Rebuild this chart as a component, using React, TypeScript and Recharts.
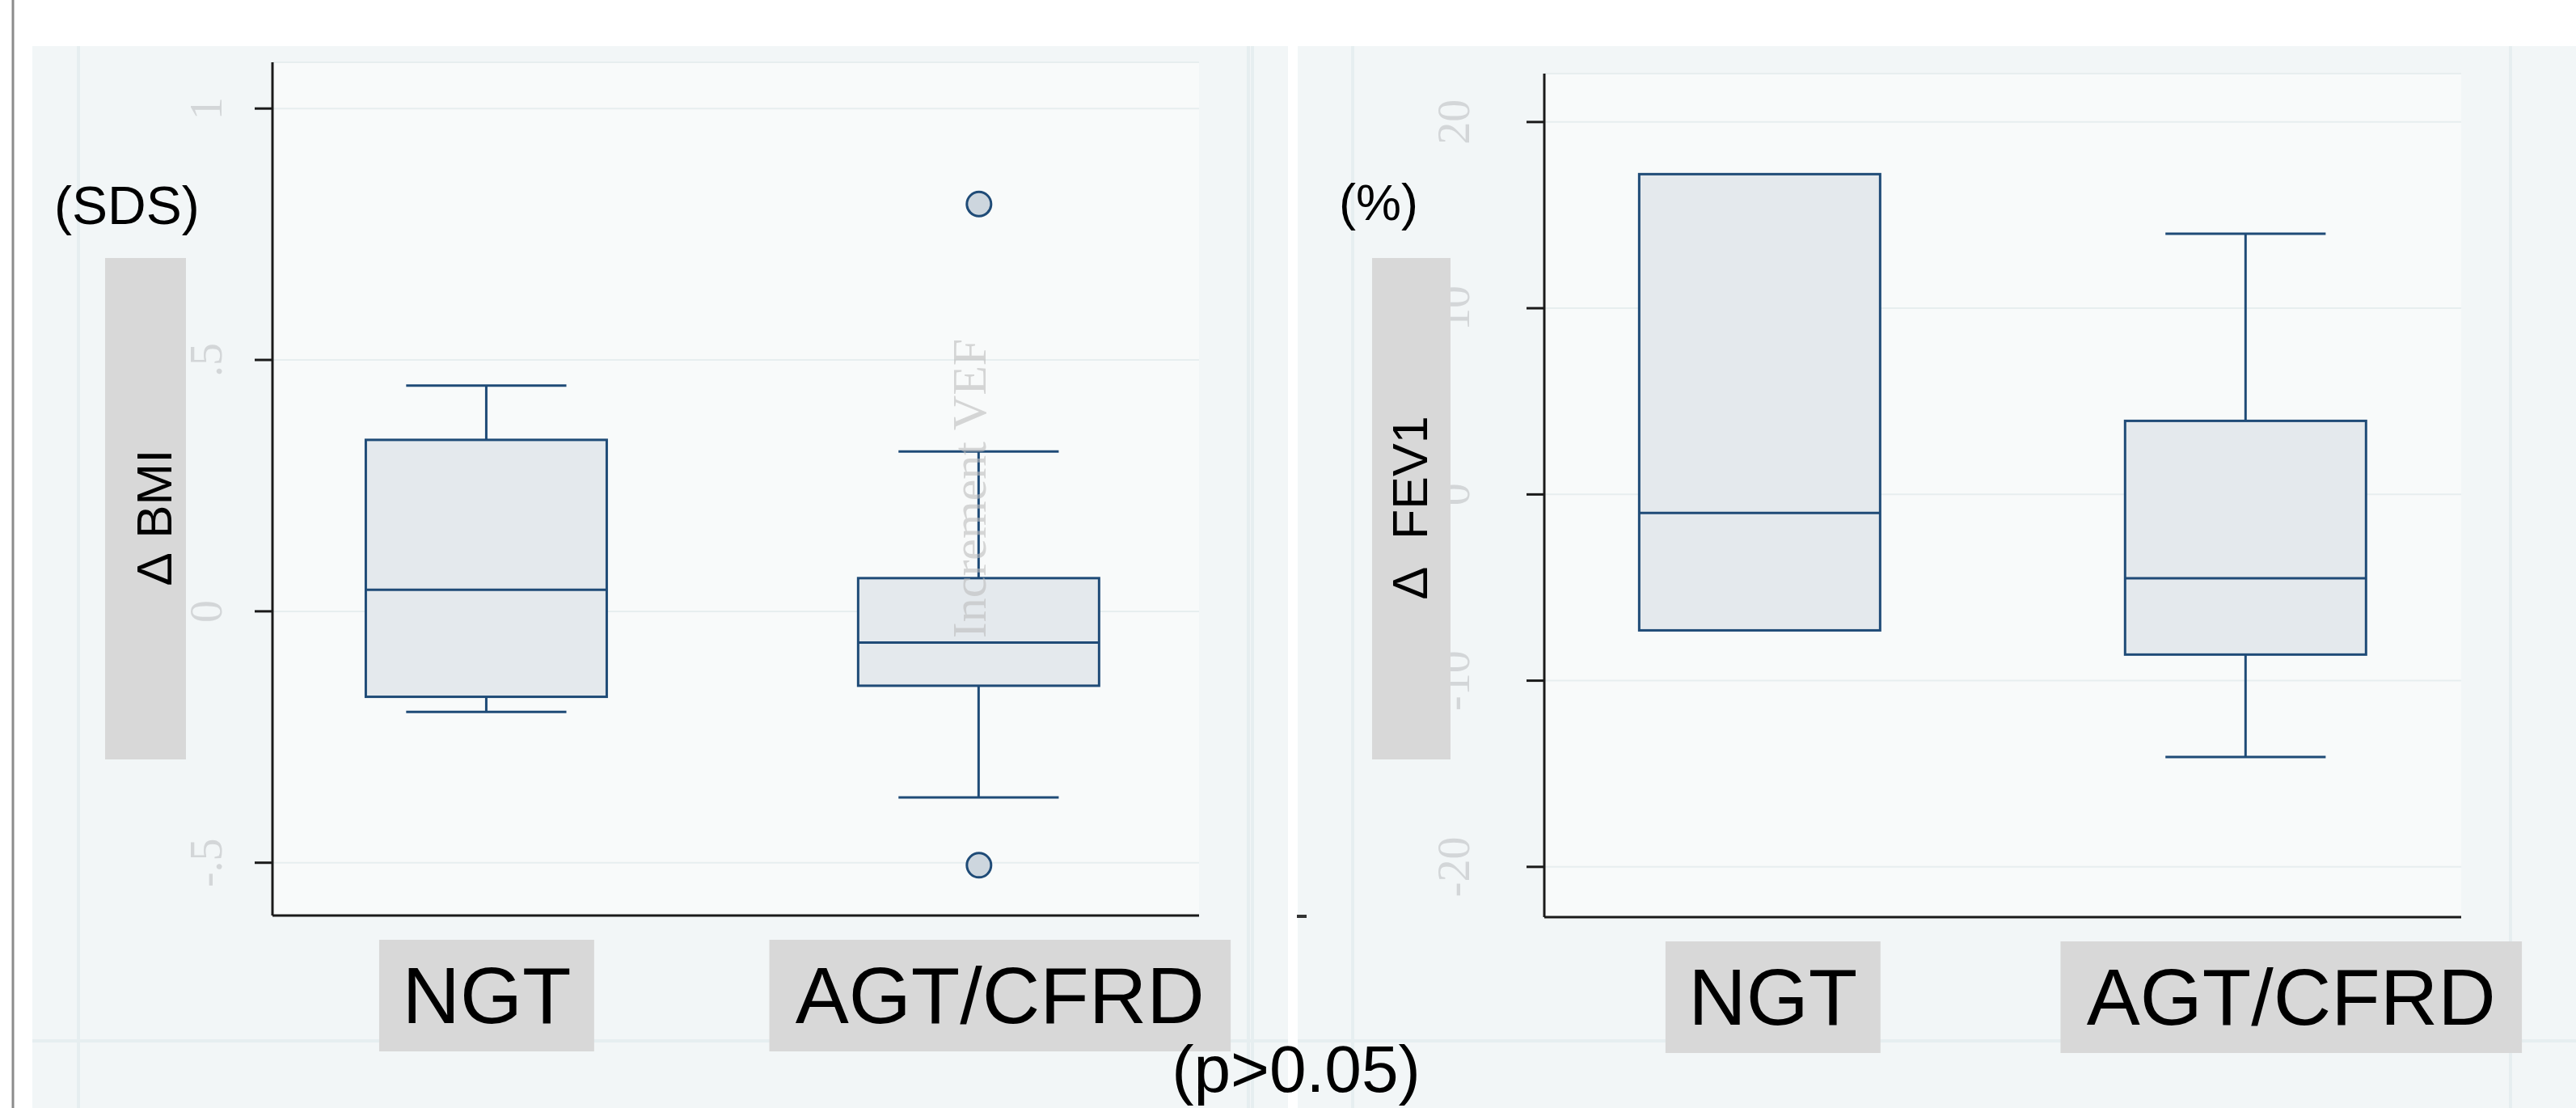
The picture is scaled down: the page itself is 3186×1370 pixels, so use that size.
import React from "react"
import { ComposedChart, Bar, Scatter, XAxis, YAxis, CartesianGrid } from "recharts"

// categories on a numeric x scale so both boxes sit where the original put them
const categories = ["NGT", "AGT/CFRD"]
const positions = [1, 2]

// Δ BMI (SDS)
const bmiMin = [-0.2, -0.37]
const bmiQ1 = [-0.17, -0.148]
const bmiMedian = [0.043, -0.062]
const bmiQ3 = [0.341, 0.066]
const bmiMax = [0.449, 0.318]
const bmiOutlierPos = [2, 2]
const bmiOutliers = [0.81, -0.505]
const bmiTicks = [-0.5, 0, 0.5, 1]
const bmiTickLabels = ["-.5", "0", ".5", "1"]

// Δ FEV1 (%)
const fevMin = [-7.3, -14.1]
const fevQ1 = [-7.3, -8.6]
const fevMedian = [-1.0, -4.5]
const fevQ3 = [17.2, 3.95]
const fevMax = [17.2, 14.0]
const fevTicks = [-20, -10, 0, 10, 20]
const fevTickLabels = ["-20", "-10", "0", "10", "20"]

const NAVY = "#1f4b77"
const BOX_FILL = "#e4e9ed"
const OUTER_BG = "#f2f6f7"
const PLOT_BG = "#f8fafa"
const GRID = "#e7eeef"
const LABEL_BOX = "#d8d8d8"
const SANS = "'Liberation Sans', Arial, sans-serif"
const SERIF = "'Liberation Serif', 'Times New Roman', serif"

const makeRows = (mn: number[], q1: number[], med: number[], q3: number[], mx: number[]) =>
  positions.map((pos, i) => ({
    pos,
    name: categories[i],
    min: mn[i],
    q1: q1[i],
    median: med[i],
    q3: q3[i],
    max: mx[i],
  }))

const bmiRows = makeRows(bmiMin, bmiQ1, bmiMedian, bmiQ3, bmiMax)
const fevRows = makeRows(fevMin, fevQ1, fevMedian, fevQ3, fevMax)
const bmiOutlierRows = bmiOutliers.map((v, i) => ({ pos: bmiOutlierPos[i], value: v }))

// box drawn from the range bar [q1, q3]; whiskers and median use the same pixel scale
function BoxShape(props: any) {
  const { x, y, width, height, payload } = props
  if (!payload || !isFinite(x) || !isFinite(y)) return null
  const top = Math.min(y, y + height)
  const h = Math.abs(height)
  const unit = h / (payload.q3 - payload.q1)
  const py = (v: number) => top + (payload.q3 - v) * unit
  const cx = x + width / 2
  const cap = width * 0.665
  return (
    <g stroke={NAVY} strokeWidth={3}>
      {payload.max > payload.q3 && (
        <>
          <line x1={cx} x2={cx} y1={py(payload.q3)} y2={py(payload.max)} />
          <line x1={cx - cap / 2} x2={cx + cap / 2} y1={py(payload.max)} y2={py(payload.max)} />
        </>
      )}
      {payload.min < payload.q1 && (
        <>
          <line x1={cx} x2={cx} y1={py(payload.q1)} y2={py(payload.min)} />
          <line x1={cx - cap / 2} x2={cx + cap / 2} y1={py(payload.min)} y2={py(payload.min)} />
        </>
      )}
      <rect x={x} y={top} width={width} height={h} fill={BOX_FILL} />
      <line x1={x} x2={x + width} y1={py(payload.median)} y2={py(payload.median)} />
    </g>
  )
}

function OutlierDot(props: any) {
  const { cx, cy } = props
  if (!isFinite(cx) || !isFinite(cy)) return null
  return <circle cx={cx} cy={cy} r={15} fill="#cdd6de" stroke={NAVY} strokeWidth={3} />
}

function makeYTick(ticks: number[], labels: string[], dx: number) {
  return function YTick(props: any) {
    const { x, y, payload } = props
    const i = ticks.indexOf(payload.value)
    const tx = x + dx
    return (
      <text
        x={tx}
        y={y}
        transform={`rotate(-90 ${tx} ${y})`}
        textAnchor="middle"
        dominantBaseline="central"
        fontFamily={SERIF}
        fontSize={56}
        fill="#d3d6d8"
      >
        {i >= 0 ? labels[i] : payload.value}
      </text>
    )
  }
}

const labelWidth = (s: string, fs: number) =>
  s.split("").reduce((w, ch) => w + (ch === "/" ? 0.278 : 0.7), 0) * fs

function makeCategoryTick(shifts: number[]) {
  return function CategoryTick(props: any) {
    const { y, payload } = props
    const idx = positions.indexOf(payload.value)
    const label = categories[idx]
    if (!label) return null
    const x = props.x + (shifts[idx] || 0)
    const fs = 99
    const w = labelWidth(label, fs) + 58
    return (
      <g>
        <rect x={x - w / 2} y={y + 30} width={w} height={138} fill={LABEL_BOX} />
        <text x={x} y={y + 133} textAnchor="middle" fontFamily={SANS} fontSize={fs} fill="#000">
          {label}
        </text>
      </g>
    )
  }
}

function BoxPanel(props: {
  rows: any[]
  outliers: { pos: number; value: number }[]
  width: number
  height: number
  margin: { top: number; right: number; bottom: number; left: number }
  yWidth: number
  xHeight: number
  yDomain: [number, number]
  xDomain: [number, number]
  ticks: number[]
  tickLabels: string[]
  tickDx: number
  labelShifts: number[]
}) {
  const p = props
  return (
    <ComposedChart width={p.width} height={p.height} data={p.rows} margin={p.margin}>
      <CartesianGrid vertical={false} fill={PLOT_BG} stroke={GRID} strokeWidth={2} />
      <XAxis
        type="number"
        dataKey="pos"
        domain={p.xDomain}
        allowDataOverflow
        ticks={positions}
        height={p.xHeight}
        tickLine={false}
        tickSize={0}
        tickMargin={0}
        axisLine={{ stroke: "#1a1a1a", strokeWidth: 3 }}
        tick={makeCategoryTick(p.labelShifts)}
        interval={0}
      />
      <YAxis
        type="number"
        domain={p.yDomain}
        allowDataOverflow
        ticks={p.ticks}
        width={p.yWidth}
        tickSize={22}
        tickLine={{ stroke: "#1a1a1a", strokeWidth: 3 }}
        axisLine={{ stroke: "#1a1a1a", strokeWidth: 3 }}
        tick={makeYTick(p.ticks, p.tickLabels, p.tickDx)}
        interval={0}
      />
      <Bar
        dataKey={(d: any) => [d.q1, d.q3]}
        barSize={298}
        shape={<BoxShape />}
        isAnimationActive={false}
      />
      {p.outliers.length > 0 && (
        <Scatter data={p.outliers} dataKey="value" shape={<OutlierDot />} isAnimationActive={false} />
      )}
    </ComposedChart>
  )
}

export default function App() {
  return (
    <div
      style={{
        position: "absolute",
        left: 0,
        top: 0,
        width: 3186,
        height: 1370,
        overflow: "hidden",
        background: "#ffffff",
      }}
    >
      {/* graph region backgrounds and faint frame lines */}
      <svg width={3186} height={1370} style={{ position: "absolute", left: 0, top: 0 }}>
        <rect x={40} y={57} width={1553} height={1313} fill={OUTER_BG} />
        <rect x={1605} y={57} width={1581} height={1313} fill={OUTER_BG} />
        <line x1={16} x2={16} y1={0} y2={1370} stroke="#8c8c8c" strokeWidth={3} />
        <g stroke="#e6eef0" strokeWidth={4}>
          <line x1={97} x2={97} y1={57} y2={1370} />
          <line x1={1544} x2={1544} y1={57} y2={1370} />
          <line x1={1549} x2={1549} y1={57} y2={1370} />
          <line x1={1673} x2={1673} y1={57} y2={1370} />
          <line x1={3105} x2={3105} y1={57} y2={1370} />
          <line x1={40} x2={1593} y1={1287} y2={1287} />
          <line x1={1605} x2={3186} y1={1287} y2={1287} />
        </g>
        <rect x={1604} y={1131} width={12} height={4} fill="#333" />
      </svg>

      <div style={{ position: "absolute", left: 40, top: 57 }}>
        <BoxPanel
          rows={bmiRows}
          outliers={bmiOutlierRows}
          width={1553}
          height={1313}
          margin={{ top: 20, right: 110, bottom: 0, left: 0 }}
          yWidth={297}
          xHeight={238}
          yDomain={[-0.605, 1.092]}
          xDomain={[0.565, 2.447]}
          ticks={bmiTicks}
          tickLabels={bmiTickLabels}
          tickDx={-58}
          labelShifts={[0, 26]}
        />
      </div>

      <div style={{ position: "absolute", left: 1605, top: 57 }}>
        <BoxPanel
          rows={fevRows}
          outliers={[]}
          width={1581}
          height={1313}
          margin={{ top: 34, right: 142, bottom: 0, left: 0 }}
          yWidth={305}
          xHeight={236}
          yDomain={[-22.7, 22.6]}
          xDomain={[0.556, 2.443]}
          ticks={fevTicks}
          tickLabels={fevTickLabels}
          tickDx={-88}
          labelShifts={[16, 56]}
        />
      </div>

      {/* axis titles, units, watermark and the p-value note */}
      <svg
        width={3186}
        height={1370}
        style={{ position: "absolute", left: 0, top: 0, pointerEvents: "none" }}
      >
        <text x={67} y={277} fontFamily={SANS} fontSize={66} fill="#000">
          (SDS)
        </text>
        <rect x={130} y={319} width={100} height={620} fill={LABEL_BOX} />
        <text
          x={190}
          y={640}
          transform="rotate(-90 190 640)"
          textAnchor="middle"
          dominantBaseline="central"
          fontFamily={SANS}
          fontSize={62}
          fill="#000"
        >
          {"Δ\u00a0BMI"}
        </text>

        <text x={1656} y={272} fontFamily={SANS} fontSize={63} fill="#000">
          (%)
        </text>
        <rect x={1697} y={319} width={97} height={620} fill={LABEL_BOX} />
        <text
          x={1744}
          y={628}
          transform="rotate(-90 1744 628)"
          textAnchor="middle"
          dominantBaseline="central"
          fontFamily={SANS}
          fontSize={61}
          fill="#000"
        >
          {"Δ\u00a0\u00a0FEV1"}
        </text>

        <text
          x={1199}
          y={604}
          transform="rotate(-90 1199 604)"
          textAnchor="middle"
          dominantBaseline="central"
          fontFamily={SERIF}
          fontSize={60}
          fill="#bdbdbd"
          opacity={0.6}
        >
          Increment VEF
        </text>

        <text x={1603} y={1350} textAnchor="middle" fontFamily={SANS} fontSize={82} fill="#000">
          (p&gt;0.05)
        </text>
      </svg>
    </div>
  )
}
